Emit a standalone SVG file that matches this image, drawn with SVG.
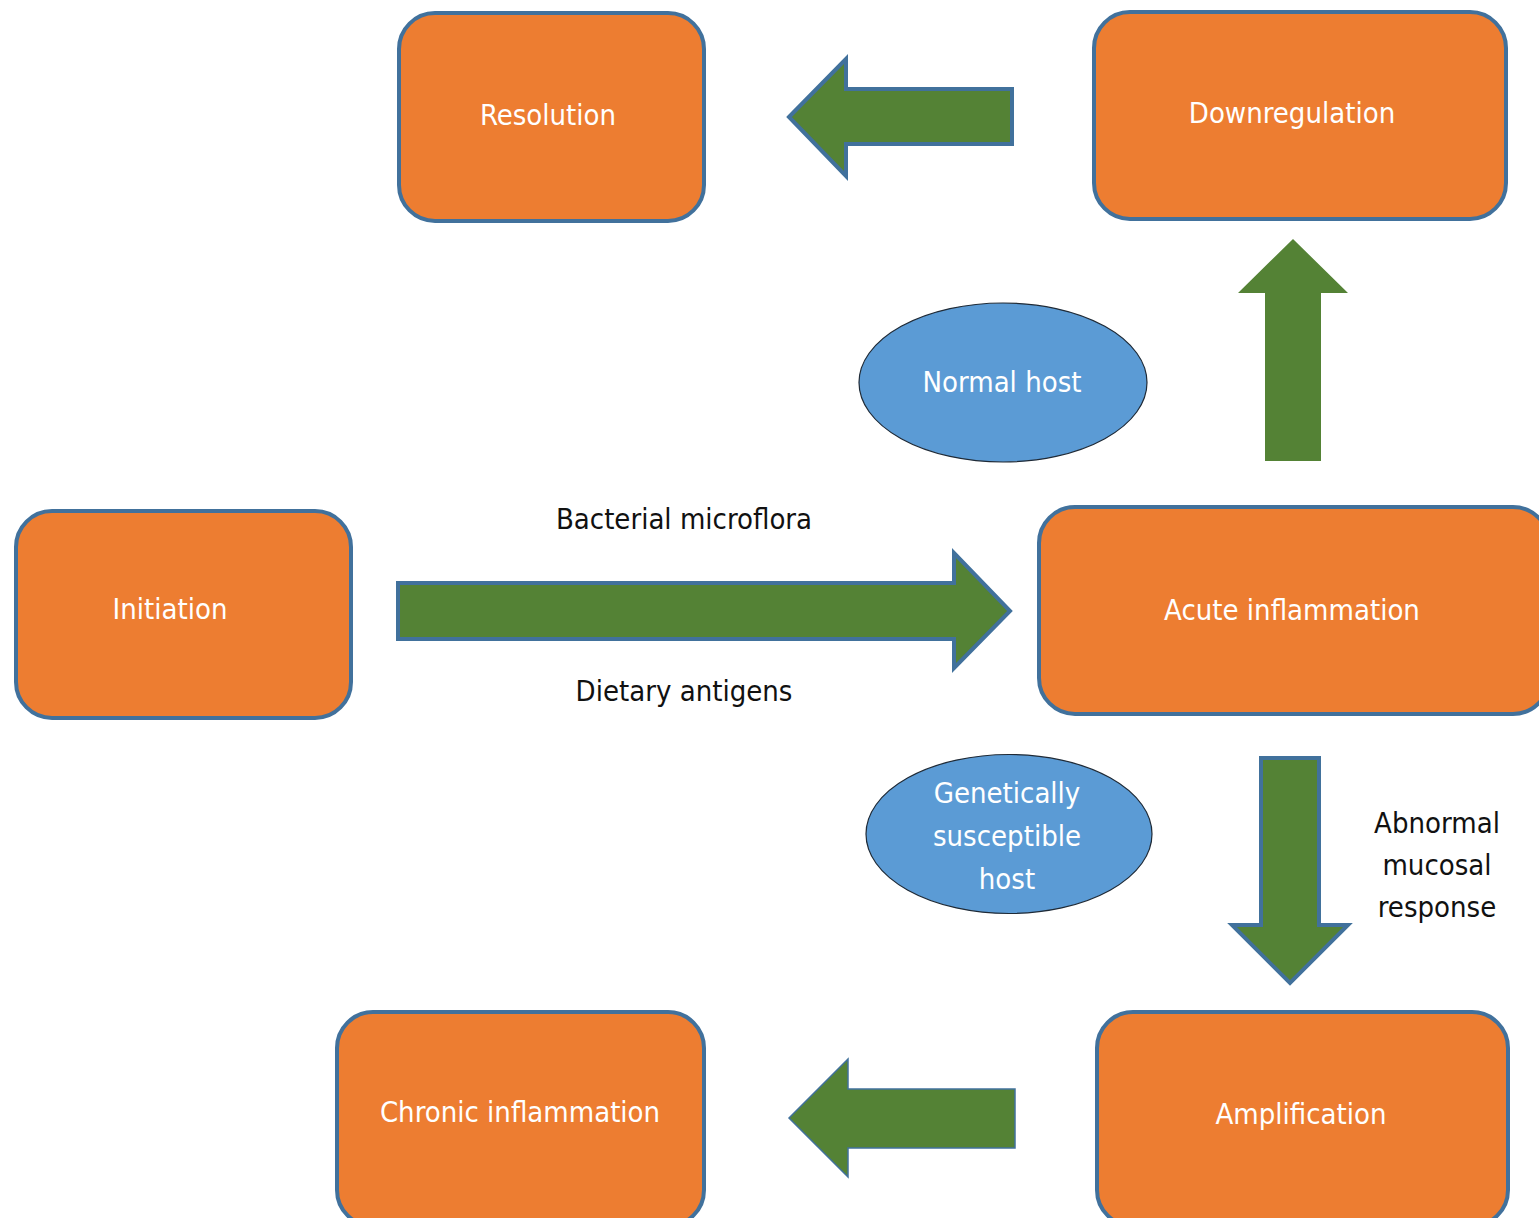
<svg xmlns="http://www.w3.org/2000/svg" width="1539" height="1218" viewBox="0 0 1539 1218">
<style>
.box{fill:#ED7D31;stroke:#41719C;stroke-width:4}
.oval{fill:#5B9BD5;stroke:#1f2a36;stroke-width:1.2}
.arr{fill:#548235;stroke:#41719C;stroke-width:4;stroke-linejoin:miter}
.arrt{fill:#548235;stroke:#41719C;stroke-width:1.5}
.arrn{fill:#548235;stroke:none}
text{font-family:"DejaVu Sans","Liberation Sans",sans-serif;font-stretch:condensed;font-size:29px;text-anchor:middle}
.w{fill:#ffffff}
.k{fill:#111111}
</style>
<rect width="1539" height="1218" fill="#ffffff"/>
<g id="connectors">
<polygon class="arr" points="789,117 846,59 846,89 1012,89 1012,144 846,144 846,176"/>
<polygon class="arrn" points="1293,239 1348,293 1321,293 1321,461 1265,461 1265,293 1238,293"/>
<polygon class="arr" points="398,583 954,583 954,553 1010,611 954,668 954,639 398,639"/>
<polygon class="arr" points="1261,758 1319,758 1319,925 1348,925 1290,983 1232,925 1261,925"/>
<polygon class="arrt" points="789,1118 848,1059 848,1089 1015,1089 1015,1148 848,1148 848,1177"/>
</g>
<g id="resolution"><rect class="box" x="399" y="13" width="305" height="208" rx="36"/><text class="w" x="548" y="125">Resolution</text></g>
<g id="downregulation"><rect class="box" x="1094" y="12" width="412" height="207" rx="36"/><text class="w" x="1292" y="123">Downregulation</text></g>
<g id="initiation"><rect class="box" x="16" y="511" width="335" height="207" rx="36"/><text class="w" x="170" y="619">Initiation</text></g>
<g id="acute"><rect class="box" x="1039" y="507" width="510" height="207" rx="36"/><text class="w" x="1292" y="620">Acute inflammation</text></g>
<g id="chronic"><rect class="box" x="337" y="1012" width="367" height="214" rx="36"/><text class="w" x="520" y="1122">Chronic inflammation</text></g>
<g id="amplification"><rect class="box" x="1097" y="1012" width="411" height="214" rx="36"/><text class="w" x="1301" y="1124">Amplification</text></g>
<g id="normal-host"><ellipse class="oval" cx="1003" cy="382.5" rx="144" ry="79.5"/><text class="w" x="1002" y="392">Normal host</text></g>
<g id="susceptible-host"><ellipse class="oval" cx="1009" cy="834" rx="143" ry="79.5"/><text class="w" x="1007" y="803">Genetically</text><text class="w" x="1007" y="846">susceptible</text><text class="w" x="1007" y="889">host</text></g>
<g id="labels">
<text class="k" x="684" y="529">Bacterial microflora</text>
<text class="k" x="684" y="701">Dietary antigens</text>
<text class="k" x="1437" y="833">Abnormal</text>
<text class="k" x="1437" y="875">mucosal</text>
<text class="k" x="1437" y="917">response</text>
</g>
</svg>
